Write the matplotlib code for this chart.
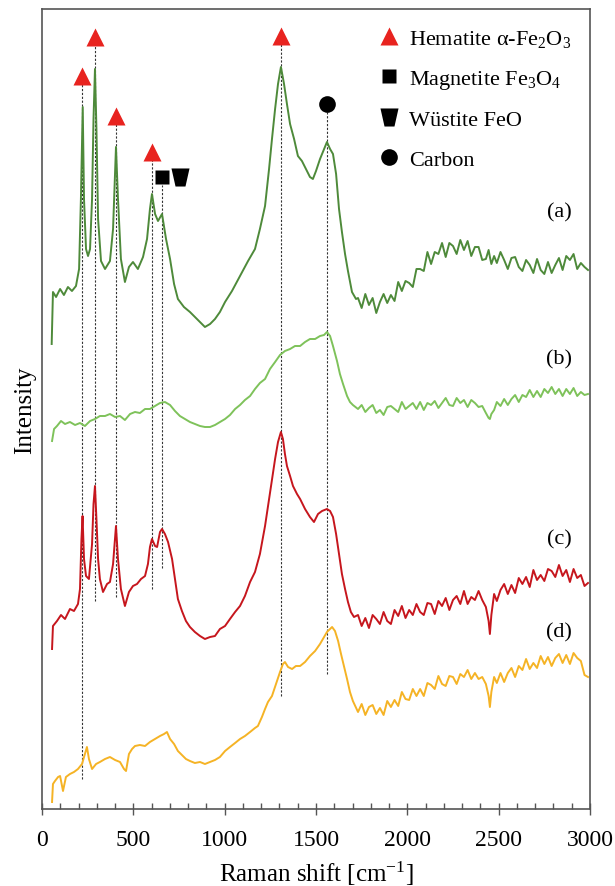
import numpy as np
import matplotlib
matplotlib.use("Agg")
import matplotlib.pyplot as plt
from matplotlib.lines import Line2D
from matplotlib.ticker import MultipleLocator

plt.rcParams["font.family"] = ["Liberation Serif", "DejaVu Serif"]
plt.rcParams["mathtext.fontset"] = "custom"
plt.rcParams["mathtext.rm"] = "Liberation Serif"
plt.rcParams["mathtext.it"] = "Liberation Serif:italic"

# --- Data (Raman shift in cm^-1, intensity in arbitrary offset units) ---
# low-shift part of each spectrum
shift_a = [53, 60, 77, 99, 120, 142, 164, 186, 203, 213, 223, 230, 241, 252, 263, 274, 282, 290, 298, 307,
           323, 345, 372, 389, 405, 416, 432, 454, 476, 498, 525, 553, 575, 591, 602, 619, 635, 657, 679, 701,
           723, 744, 777, 810, 848, 892, 920, 947, 974, 1002, 1040, 1084, 1128, 1166, 1193, 1221, 1243, 1259,
           1276, 1292, 1308, 1325, 1341, 1358, 1380, 1401, 1423, 1445, 1467, 1483, 1500, 1522, 1544, 1560,
           1577, 1593, 1610, 1626, 1642, 1659, 1675, 1697, 1719]
int_a = [465, 517, 512, 520, 514, 522, 518, 523, 540, 610, 702, 610, 560, 553, 560, 610, 690, 740, 680, 590,
         548, 540, 548, 580, 662, 610, 550, 527, 542, 547, 540, 552, 570, 600, 615, 595, 588, 595, 570, 550,
         525, 510, 502, 497, 490, 482, 485, 490, 497, 507, 518, 533, 548, 560, 580, 603, 640, 670,
         700, 725, 742, 725, 705, 685, 670, 653, 648, 640, 632, 630, 638, 650, 660, 667,
         660, 655, 635, 600, 577, 555, 538, 517, 510]

shift_b = [55, 66, 82, 104, 126, 153, 181, 208, 235, 263, 290, 317, 345, 372, 400, 427, 454, 482, 509, 536,
           564, 591, 619, 646, 673, 701, 728, 755, 783, 810, 837, 865, 892, 920, 947, 974, 1002, 1029, 1057,
           1084, 1111, 1139, 1166, 1193, 1221, 1248, 1276, 1303, 1330, 1358, 1385, 1413, 1440, 1467, 1495,
           1522, 1544, 1560, 1577, 1593, 1615, 1631, 1648, 1670, 1686, 1702]
int_b = [368, 380, 383, 388, 385, 387, 384, 386, 383, 388, 390, 393, 393, 395, 392, 393, 389, 395, 397, 396,
         400, 400, 403, 406, 407, 404, 398, 393, 390, 387, 385, 383, 382, 382, 384, 387, 390, 394, 400,
         404, 409, 413, 420, 426, 430, 440, 447, 454, 458, 460, 463, 463, 467, 470, 470,
         473, 474, 477, 473, 463, 448, 435, 425, 413, 407, 404]

shift_c = [55, 60, 82, 104, 126, 153, 175, 197, 208, 216, 222, 230, 241, 257, 274, 282, 290, 298, 307, 317,
           334, 356, 372, 389, 405, 416, 432, 454, 476, 498, 520, 542, 564, 580, 591, 602, 619, 630, 646, 657,
           673, 690, 712, 728, 744, 766, 788, 810, 837, 865, 892, 920, 947, 974, 1002, 1029, 1057, 1084, 1111,
           1139, 1166, 1193, 1221, 1243, 1259, 1276, 1292, 1308, 1319, 1330, 1341, 1358, 1374, 1396, 1413,
           1440, 1467, 1489, 1511, 1533, 1560, 1577, 1593, 1610, 1626, 1642, 1659, 1675, 1691, 1708]
int_c = [160, 183, 188, 194, 190, 200, 198, 205, 220, 270, 293, 250, 233, 230, 265, 305, 323, 290, 250, 230,
         217, 225, 227, 245, 283, 250, 220, 203, 217, 223, 225, 230, 233, 245, 262, 270, 263, 262, 277, 280,
         275, 267, 250, 230, 210, 198, 188, 182, 177, 173, 170, 172, 173, 180, 183, 190, 197, 203, 213,
         227, 237, 255, 283, 310, 330, 350, 367, 377, 370, 355, 343, 333, 323, 315, 310,
         300, 292, 287, 295, 298, 300, 298, 292, 275, 255, 235, 220, 207, 197, 192]

shift_d = [55, 60, 71, 88, 99, 115, 131, 153, 175, 197, 219, 235, 246, 257, 274, 296, 317, 345, 372, 400,
           427, 449, 460, 476, 493, 509, 536, 564, 591, 619, 646, 668, 684, 701, 723, 744, 766, 788, 810,
           837, 865, 892, 920, 947, 974, 1002, 1029, 1057, 1084, 1111, 1139, 1166, 1182, 1204, 1221, 1237,
           1259, 1281, 1303, 1319, 1330, 1347, 1369, 1390, 1413, 1440, 1467, 1495, 1522, 1544, 1560, 1577,
           1588, 1604, 1621, 1637, 1653, 1670, 1686, 1702]
int_d = [7, 25, 28, 32, 33, 18, 32, 35, 37, 40, 45, 55, 62, 50, 40, 45, 47, 50, 52, 49,
         47, 40, 38, 55, 60, 63, 64, 63, 67, 70, 73, 75, 77, 70, 65, 58, 54, 50, 48,
         46, 47, 45, 47, 49, 52, 58, 62, 66, 70, 73, 77, 81, 83, 92, 100, 107,
         113, 125, 137, 145, 147, 142, 140, 143, 143, 147, 153, 158, 165, 172, 177, 180,
         182, 178, 168, 155, 143, 130, 117, 108]

# high-shift (noisy) part of each spectrum, read every ~20 cm^-1
shift_hi = [1730, 1750, 1770, 1790, 1810, 1830, 1850, 1870, 1890, 1910, 1930, 1950, 1970, 1990, 2010,
            2030, 2050, 2070, 2090, 2110, 2130, 2150, 2170, 2190, 2210, 2230, 2250, 2270, 2290, 2310,
            2330, 2350, 2370, 2390, 2410, 2430, 2445, 2452, 2460, 2475, 2490, 2510, 2530, 2550, 2570,
            2590, 2610, 2630, 2650, 2670, 2690, 2710, 2730, 2750, 2770, 2790, 2810, 2830, 2850, 2870,
            2890, 2910, 2930, 2950, 2970, 2989]
int_a_hi = [511, 501, 515, 504, 511, 496, 507, 515, 506, 514, 508, 527, 518, 528, 526,
            522, 540, 540, 538, 557, 545, 557, 555, 566, 552, 566, 563, 555, 569, 559,
            568, 553, 562, 562, 549, 550, 559, 552, 545, 553, 546, 557, 549, 540, 551,
            552, 542, 538, 549, 544, 536, 550, 539, 535, 547, 536, 544, 551, 539, 553,
            549, 555, 540, 546, 542, 539]
int_b_hi = [400, 404, 397, 401, 404, 396, 399, 394, 402, 403, 400, 397, 407, 400, 403,
            406, 400, 407, 399, 406, 404, 408, 401, 406, 411, 404, 403, 411, 406, 409,
            402, 409, 406, 402, 403, 396, 391, 390, 395, 399, 407, 403, 410, 404, 410,
            414, 407, 414, 412, 419, 412, 418, 412, 420, 416, 422, 415, 420, 413, 420,
            415, 421, 413, 417, 414, 415]
int_c_hi = [194, 183, 191, 181, 194, 190, 185, 197, 188, 185, 199, 193, 203, 191, 199,
            194, 205, 197, 194, 206, 205, 195, 208, 203, 211, 199, 209, 213, 205, 218,
            205, 212, 209, 218, 209, 202, 188, 175, 194, 215, 208, 219, 225, 215, 224,
            216, 231, 225, 232, 222, 239, 229, 234, 228, 240, 238, 232, 244, 233, 239,
            227, 240, 231, 234, 223, 226]
int_d_hi = [97, 105, 94, 102, 104, 95, 101, 94, 108, 102, 109, 103, 117, 110, 109,
            120, 113, 120, 113, 126, 124, 120, 133, 125, 123, 133, 132, 125, 135, 132,
            139, 130, 136, 130, 132, 125, 113, 102, 117, 132, 126, 136, 127, 136, 141,
            132, 143, 139, 150, 140, 146, 141, 153, 145, 152, 143, 151, 155, 146, 154,
            145, 156, 151, 148, 134, 132]

series = [
    (shift_a + shift_hi, int_a + int_a_hi, "#4e8a3a", "(a)", 597),
    (shift_b + shift_hi, int_b + int_b_hi, "#7ec25a", "(b)", 450),
    (shift_c + shift_hi, int_c + int_c_hi, "#c6161d", "(c)", 270),
    (shift_d + shift_hi, int_d + int_d_hi, "#f5b325", "(d)", 177),
]

# peak assignments: position, marker, marker height, line bottom
peak_pos    = [221, 290, 405, 604, 659, 1308, 1560]
peak_mark   = ["hem", "hem", "hem", "hem", "mag", "hem", "carb"]
peak_top    = [733, 772, 693, 657, 632, 773, 705]
peak_bottom = [30, 208, 212, 220, 241, 113, 135]
wus_pos, wus_top = 755, 632

wustite = [(-1, 1), (1, 1), (0.55, -1), (-0.55, -1), (-1, 1)]
styles = {
    "hem":  dict(marker="^", color="#e8231f", ms=13),
    "mag":  dict(marker="s", color="black", ms=9.5),
    "wus":  dict(marker=wustite, color="black", ms=13),
    "carb": dict(marker="o", color="black", ms=12),
}

fig = plt.figure(figsize=(6.15, 8.87), dpi=100)
ax = fig.add_axes([42 / 615, 77 / 887, 548 / 615, 800 / 887])

for x, y, c, lab, ylab in series:
    ax.plot(x, y, color=c, lw=1.4)
    ax.text(2900, ylab, lab, fontsize=16, ha="right", va="center")

for p, m, top, bot in zip(peak_pos, peak_mark, peak_top, peak_bottom):
    ax.plot([p, p], [bot, top - 8], color="#333333", lw=0.8, ls=(0, (2, 1.5)), zorder=1)
    ax.plot([p], [top], ls="none", mec="none", **styles[m], zorder=3)
ax.plot([wus_pos], [wus_top], ls="none", mec="none", **styles["wus"], zorder=3)

handles = [Line2D([], [], ls="none", mec="none", **styles[k]) for k in ["hem", "mag", "wus", "carb"]]
labels = ["Hematite α-Fe$_2$O$_3$", "Magnetite Fe$_3$O$_4$", "Wüstite FeO", "Carbon"]
ax.legend(handles, labels, loc="upper right", bbox_to_anchor=(1.0, 1.0), frameon=False,
          fontsize=16, handlelength=0.8, handletextpad=0.5, labelspacing=0.85, borderaxespad=0.45)

ax.set_xlim(0, 3000)
ax.set_ylim(0, 800)
ax.set_yticks([])
ax.xaxis.set_major_locator(MultipleLocator(500))
ax.xaxis.set_minor_locator(MultipleLocator(100))
ax.tick_params(axis="x", which="major", direction="inout", length=9, width=1, labelsize=17,
               color="#555555", pad=10)
ax.tick_params(axis="x", which="minor", direction="in", length=4, width=1, color="#555555")
for s in ax.spines.values():
    s.set_color("#555555")
    s.set_linewidth(1.2)

ax.set_xlabel("Raman shift [cm$^{\\mathregular{-1}}$]", fontsize=18, labelpad=6)
ax.set_ylabel("Intensity", fontsize=18, labelpad=4)

fig.savefig("out.png", dpi=100)
